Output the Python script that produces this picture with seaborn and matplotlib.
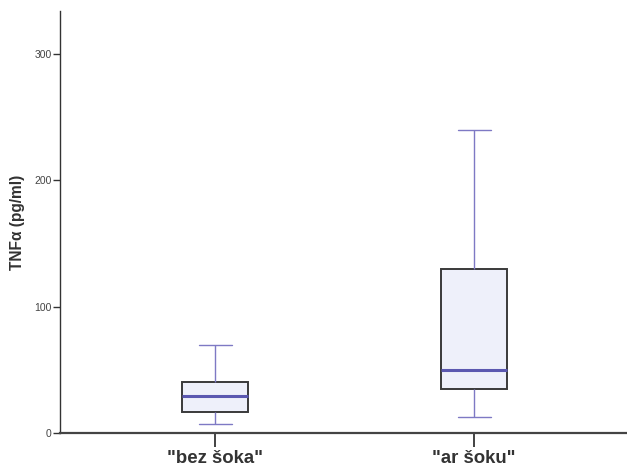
import matplotlib
matplotlib.use("Agg")
import matplotlib.pyplot as plt
import seaborn as sns
import pandas as pd

# Five-number summaries (low whisker, Q1, median, Q3, high whisker)
groups = ['"bez šoka"', '"ar šoku"']
bez_soka = [7, 17, 29, 40, 70]
ar_soku = [13, 35, 50, 130, 240]
y_ticks = [0, 100, 200, 300]

df = pd.DataFrame({
    "group": [groups[0]] * len(bez_soka) + [groups[1]] * len(ar_soku),
    "value": bez_soka + ar_soku,
})

sns.set_theme(style="ticks")
plt.rcParams["font.family"] = ["Liberation Sans", "DejaVu Sans"]

fig = plt.figure(figsize=(6.27, 4.68), dpi=100)
ax = fig.add_axes([60 / 627, 35 / 468, 567 / 627, 422 / 468])

sns.boxplot(
    data=df, x="group", y="value", order=groups, ax=ax,
    width=0.255, whis=1.5, showfliers=False,
    boxprops=dict(facecolor="#eef0fa", edgecolor="#3a3a3a", linewidth=1.4),
    medianprops=dict(color="#5b58b0", linewidth=2.2),
    whiskerprops=dict(color="#7e79c4", linewidth=1.0),
    capprops=dict(color="#7e79c4", linewidth=1.0),
)

ax.set_xlim(-0.6, 1.59)
ax.set_ylim(0, 334)
ax.set_yticks(y_ticks)
ax.set_yticklabels([str(t) for t in y_ticks], fontsize=7.5, color="#444444")
ax.tick_params(axis="y", length=5, width=1, color="#333333", pad=1)
ax.tick_params(axis="x", length=10, width=1.2, color="#222222", pad=2)
for lbl in ax.get_xticklabels():
    lbl.set_fontsize(13.4)
    lbl.set_fontweight("bold")
    lbl.set_color("#333333")

ax.set_xlabel("")
ax.set_ylabel("TNFα (pg/ml)", fontsize=11.2, fontweight="bold", color="#333333")
ax.yaxis.set_label_coords(-0.062, 0.5)

sns.despine(ax=ax, top=True, right=True)
ax.spines["left"].set_color("#333333")
ax.spines["left"].set_linewidth(1.0)
ax.spines["bottom"].set_color("#444444")
ax.spines["bottom"].set_linewidth(1.6)

fig.savefig("out.png", dpi=100)
